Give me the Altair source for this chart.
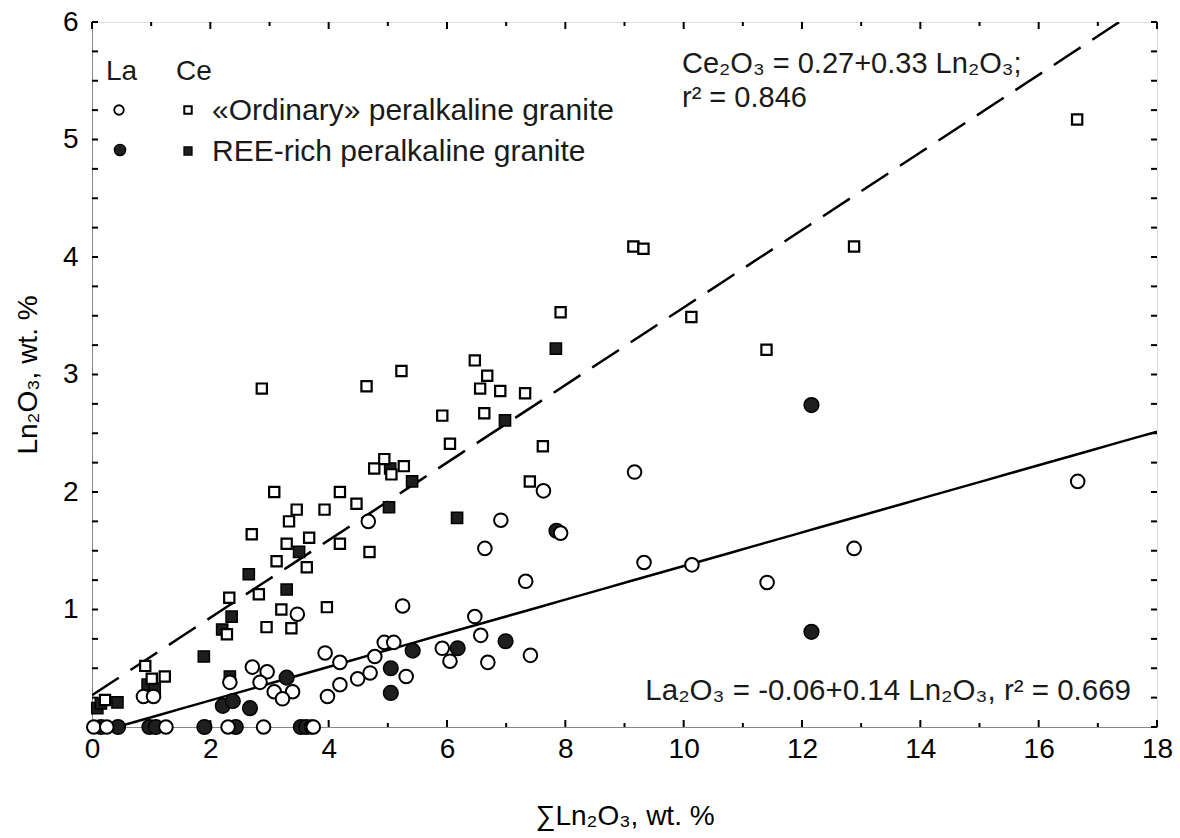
import altair as alt
import pandas as pd
import numpy as np

# ---------------- data ----------------
la_ord_x = [0.03, 0.25, 1.25, 2.30, 2.90, 3.71, 3.74,
            0.87, 1.04, 2.33, 2.71, 2.96, 2.84, 3.08, 3.39, 3.22, 3.47, 3.94, 3.98,
            4.19, 4.19, 4.49, 4.70, 4.78, 4.94, 5.10, 5.31, 5.25, 4.67, 5.92, 6.05,
            6.47, 6.57, 6.69, 7.41, 6.64, 6.91, 7.33, 7.63, 7.92, 9.17, 9.33, 10.14,
            11.41, 12.88, 16.66]
la_ord_y = [0, 0, 0, 0, 0, 0, 0,
            0.26, 0.26, 0.38, 0.51, 0.47, 0.38, 0.30, 0.30, 0.24, 0.96, 0.63, 0.26,
            0.55, 0.36, 0.41, 0.46, 0.60, 0.72, 0.72, 0.43, 1.03, 1.75, 0.67, 0.56,
            0.94, 0.78, 0.55, 0.61, 1.52, 1.76, 1.24, 2.01, 1.65, 2.17, 1.40, 1.38,
            1.23, 1.52, 2.09]

la_rich_x = [0.15, 0.44, 0.97, 1.08, 1.90, 2.43, 3.53, 3.62,
             2.21, 2.38, 2.67, 3.29, 5.05, 5.05, 5.42, 6.18, 6.99, 7.85, 12.16, 12.16]
la_rich_y = [0, 0, 0, 0, 0, 0, 0, 0,
             0.18, 0.22, 0.16, 0.42, 0.50, 0.29, 0.65, 0.67, 0.73, 1.67, 2.74, 0.81]

ce_ord_x = [0.22, 0.90, 1.01, 1.23, 2.28, 2.32, 2.82, 2.95, 3.37, 3.20, 3.97, 2.70,
            3.12, 3.29, 3.33, 3.46, 3.63, 3.67, 3.93, 3.08, 4.19, 4.19, 4.47, 4.69,
            4.77, 4.94, 5.06, 5.27, 2.87, 4.64, 5.23, 5.92, 6.05, 6.47, 6.68, 6.56,
            6.90, 7.32, 6.63, 7.62, 7.40, 7.92, 9.15, 9.32, 10.13, 11.40, 12.88, 16.65]
ce_ord_y = [0.23, 0.52, 0.41, 0.43, 0.79, 1.10, 1.13, 0.85, 0.84, 1.00, 1.02, 1.64,
            1.41, 1.56, 1.75, 1.85, 1.36, 1.61, 1.85, 2.00, 2.00, 1.56, 1.90, 1.49,
            2.20, 2.28, 2.15, 2.22, 2.88, 2.90, 3.03, 2.65, 2.41, 3.12, 2.99, 2.88,
            2.86, 2.84, 2.67, 2.39, 2.09, 3.53, 4.09, 4.07, 3.49, 3.21, 4.09, 5.17]

ce_rich_x = [0.09, 0.15, 0.43, 0.94, 1.06, 1.89, 2.20, 2.36, 2.33, 2.65, 3.29, 3.50,
             5.04, 5.02, 5.41, 6.17, 6.98, 7.84]
ce_rich_y = [0.16, 0.20, 0.21, 0.36, 0.33, 0.60, 0.83, 0.94, 0.43, 1.30, 1.17, 1.49,
             2.20, 1.87, 2.09, 1.78, 2.61, 3.22]

ce_fit = [0.27, 0.33]     # intercept, slope
la_fit = [-0.06, 0.143]   # intercept, slope (as drawn)

x_major = [0, 2, 4, 6, 8, 10, 12, 14, 16, 18]
x_minor = [1, 3, 5, 7, 9, 11, 13, 15, 17]
y_labels = [1, 2, 3, 4, 5, 6]
y_ticks = [i * 0.25 for i in range(25)]

FONT = "Liberation Sans, Arial"
W, H = 1065, 705

xs = alt.Scale(domain=[0, 18], nice=False, zero=False)
ys = alt.Scale(domain=[0, 6], nice=False, zero=False)

def pts(x, y):
    return pd.DataFrame({"x": x, "y": y})

# regression lines
xl = np.linspace(0, 18, 50)
ce_line = pd.DataFrame({"x": xl, "y": ce_fit[0] + ce_fit[1] * xl})
x0 = -la_fit[0] / la_fit[1]
xl2 = np.linspace(x0, 18, 50)
la_line = pd.DataFrame({"x": xl2, "y": la_fit[0] + la_fit[1] * xl2})

base_x = alt.X("x:Q", scale=xs, axis=alt.Axis(values=x_major, format="d", title="∑Ln₂O₃, wt. %",
                                               ticks=False, grid=False, labelFontSize=28,
                                               labelPadding=8, labelFlush=False, titleFontSize=28,
                                               titlePadding=39, titleFontWeight="normal"))
base_y = alt.Y("y:Q", scale=ys, axis=alt.Axis(values=y_labels, format="d", title="Ln₂O₃, wt. %",
                                               ticks=False, grid=False, labelFontSize=28,
                                               labelPadding=14, labelFlush=False, titleFontSize=28,
                                               titlePadding=20, titleFontWeight="normal"))

ce_l = alt.Chart(ce_line).mark_line(color="black", strokeWidth=2.5, strokeDash=[32, 14],
                                    clip=True).encode(x=base_x, y=base_y)
la_l = alt.Chart(la_line).mark_line(color="black", strokeWidth=2.5, clip=True).encode(
    x=alt.X("x:Q", scale=xs), y=alt.Y("y:Q", scale=ys))

def layer(df, shape, fill, size, sw):
    return alt.Chart(df).mark_point(shape=shape, filled=True, fill=fill, stroke="black",
                                    strokeWidth=sw, size=size, opacity=1).encode(
        x=alt.X("x:Q", scale=xs), y=alt.Y("y:Q", scale=ys))

p_ce_rich = layer(pts(ce_rich_x, ce_rich_y), "square", "#1e1e1e", 125, 1.5)
p_ce_ord = layer(pts(ce_ord_x, ce_ord_y), "square", "white", 105, 2.2)
p_la_rich = layer(pts(la_rich_x, la_rich_y), "circle", "#1e1e1e", 215, 1.5)
p_la_ord = layer(pts(la_ord_x, la_ord_y), "circle", "white", 185, 2.0)

# inward ticks on all four sides
def xticks(vals, length):
    d = pd.DataFrame({"x": vals})
    bot = alt.Chart(d).mark_rule(color="black", strokeWidth=2).encode(
        x=alt.X("x:Q", scale=xs), y=alt.value(H), y2=alt.value(H - length))
    top = alt.Chart(d).mark_rule(color="black", strokeWidth=2).encode(
        x=alt.X("x:Q", scale=xs), y=alt.value(0), y2=alt.value(length))
    return bot + top

yd = pd.DataFrame({"y": y_ticks})
yt_left = alt.Chart(yd).mark_rule(color="black", strokeWidth=2).encode(
    y=alt.Y("y:Q", scale=ys), x=alt.value(0), x2=alt.value(6))
yt_right = alt.Chart(yd).mark_rule(color="black", strokeWidth=2).encode(
    y=alt.Y("y:Q", scale=ys), x=alt.value(W), x2=alt.value(W - 6))

# annotations
def txt(s, x, y, size=28, align="left"):
    return alt.Chart(pd.DataFrame({"t": [s]})).mark_text(
        font=FONT, fontSize=size, align=align, baseline="alphabetic", color="#1a1a1a").encode(
        text="t:N", x=alt.value(x), y=alt.value(y))

ann = (txt("Ce₂O₃ = 0.27+0.33 Ln₂O₃;", 590, 51, 29)
       + txt("r² = 0.846", 590, 85, 29)
       + txt("La₂O₃ = -0.06+0.14 Ln₂O₃, r² = 0.669", 1039, 678, 29.5, "right")
       + txt("La", 14, 58) + txt("Ce", 84, 58)
       + txt("«Ordinary» peralkaline granite", 120, 98, 30)
       + txt("REE-rich peralkaline granite", 120, 139, 30))

def lsym(shape, fill, x, y, size, sw):
    return alt.Chart(pd.DataFrame({"a": [0]})).mark_point(
        shape=shape, filled=True, fill=fill, stroke="black", strokeWidth=sw,
        size=size, opacity=1).encode(x=alt.value(x), y=alt.value(y))

leg = (lsym("circle", "white", 27, 88, 90, 1.8) + lsym("square", "white", 96, 88, 55, 2.0)
       + lsym("circle", "#1e1e1e", 28, 128, 130, 1.2) + lsym("square", "#1e1e1e", 96, 129, 65, 1.2))

chart = alt.layer(
    ce_l, la_l,
    xticks(x_major, 7), xticks(x_minor, 4), yt_left, yt_right,
    p_ce_rich, p_ce_ord, p_la_rich, p_la_ord,
    ann, leg,
).properties(
    width=W, height=H,
    autosize=alt.AutoSizeParams(type="none"),
    padding={"left": 92, "top": 22, "right": 23, "bottom": 111},
).configure_view(stroke="black", strokeWidth=2.5).configure_axis(
    domainColor="black", domainWidth=2.5, labelColor="#1a1a1a", titleColor="#1a1a1a",
    labelFont=FONT, titleFont=FONT,
).configure(background="white")

chart.save("out.html", embed_options={"renderer": "svg", "actions": False})
